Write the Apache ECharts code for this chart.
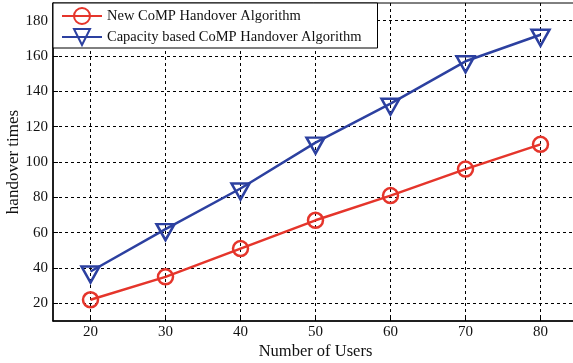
<!DOCTYPE html>
<html>
<head>
<meta charset="utf-8">
<script src="https://cdn.jsdelivr.net/npm/echarts@6/dist/echarts.min.js"></script>
<style>
html,body{margin:0;padding:0;background:#fff;}
#chart{width:573px;height:363px;}
</style>
</head>
<body>
<div id="chart"></div>
<script>
var users = [20, 30, 40, 50, 60, 70, 80];
var newCoMP = [22, 35, 51, 67, 81, 96, 110];
var capacityCoMP = [38, 62, 85, 111, 133, 157, 172];
var xTicks = [20, 30, 40, 50, 60, 70, 80];
var yTicks = [20, 40, 60, 80, 100, 120, 140, 160, 180];
var seriesNames = ['New CoMP Handover Algorithm', 'Capacity based CoMP Handover Algorithm'];

var RED = '#e5352b', BLUE = '#2c40a0';
var FONT = 'Liberation Serif';

function pairs(xs, ys) { return xs.map(function (x, i) { return [x, ys[i]]; }); }

var chart = echarts.init(document.getElementById('chart'), null, {renderer: 'canvas'});
chart.setOption({
  animation: false,
  backgroundColor: '#fff',
  textStyle: {fontFamily: FONT},
  grid: {left: 53, top: 3, width: 525, bottom: 42, containLabel: false, outerBoundsMode: 'none',
         show: true, borderColor: '#000', borderWidth: 1, backgroundColor: 'transparent'},
  legend: {
    left: 53, top: 3, orient: 'vertical',
    backgroundColor: '#fff', borderColor: '#000', borderWidth: 1, borderRadius: 0,
    padding: [4, 16, 2, 8], itemGap: 3, itemWidth: 40, itemHeight: 20,
    textStyle: {fontFamily: FONT, fontSize: 14.5, color: '#111'},
    data: seriesNames
  },
  xAxis: {
    type: 'value', min: 15, max: 85,
    name: 'Number of Users', nameLocation: 'middle', nameGap: 22, nameMoveOverlap: false,
    nameTextStyle: {fontFamily: FONT, fontSize: 16.5, color: '#111'},
    axisLine: {show: true, onZero: false, lineStyle: {color: '#000', width: 1.5}},
    axisTick: {show: true, inside: true, length: 5, customValues: xTicks, lineStyle: {color: '#000'}},
    axisLabel: {customValues: xTicks, margin: 4, fontFamily: FONT, fontSize: 15, color: '#111'},
    splitLine: {show: true, lineStyle: {color: '#000', type: [3, 3], width: 1}}
  },
  yAxis: {
    type: 'value', min: 10, max: 190,
    name: 'handover times', nameLocation: 'middle', nameGap: 31, nameMoveOverlap: false,
    nameTextStyle: {fontFamily: FONT, fontSize: 17, color: '#111'},
    axisLine: {show: true, onZero: false, lineStyle: {color: '#000', width: 1.5}},
    axisTick: {show: true, inside: true, length: 5, customValues: yTicks, lineStyle: {color: '#000'}},
    axisLabel: {customValues: yTicks, margin: 5, fontFamily: FONT, fontSize: 15, color: '#111'},
    splitLine: {show: true, lineStyle: {color: '#000', type: [3, 3], width: 1}}
  },
  series: [
    {
      name: seriesNames[0], type: 'line', data: pairs(users, newCoMP),
      symbol: 'circle', symbolSize: 15, color: RED,
      lineStyle: {color: RED, width: 2.5},
      itemStyle: {color: 'rgba(255,255,255,0)', borderColor: RED, borderWidth: 2.5},
      z: 3
    },
    {
      name: seriesNames[1], type: 'line', data: pairs(users, capacityCoMP),
      symbol: 'triangle', symbolRotate: 180, symbolSize: [18, 16], symbolOffset: [0, 3], color: BLUE,
      lineStyle: {color: BLUE, width: 2.5},
      itemStyle: {color: 'rgba(255,255,255,0)', borderColor: BLUE, borderWidth: 2.5},
      z: 3
    }
  ]
});
</script>
</body>
</html>
